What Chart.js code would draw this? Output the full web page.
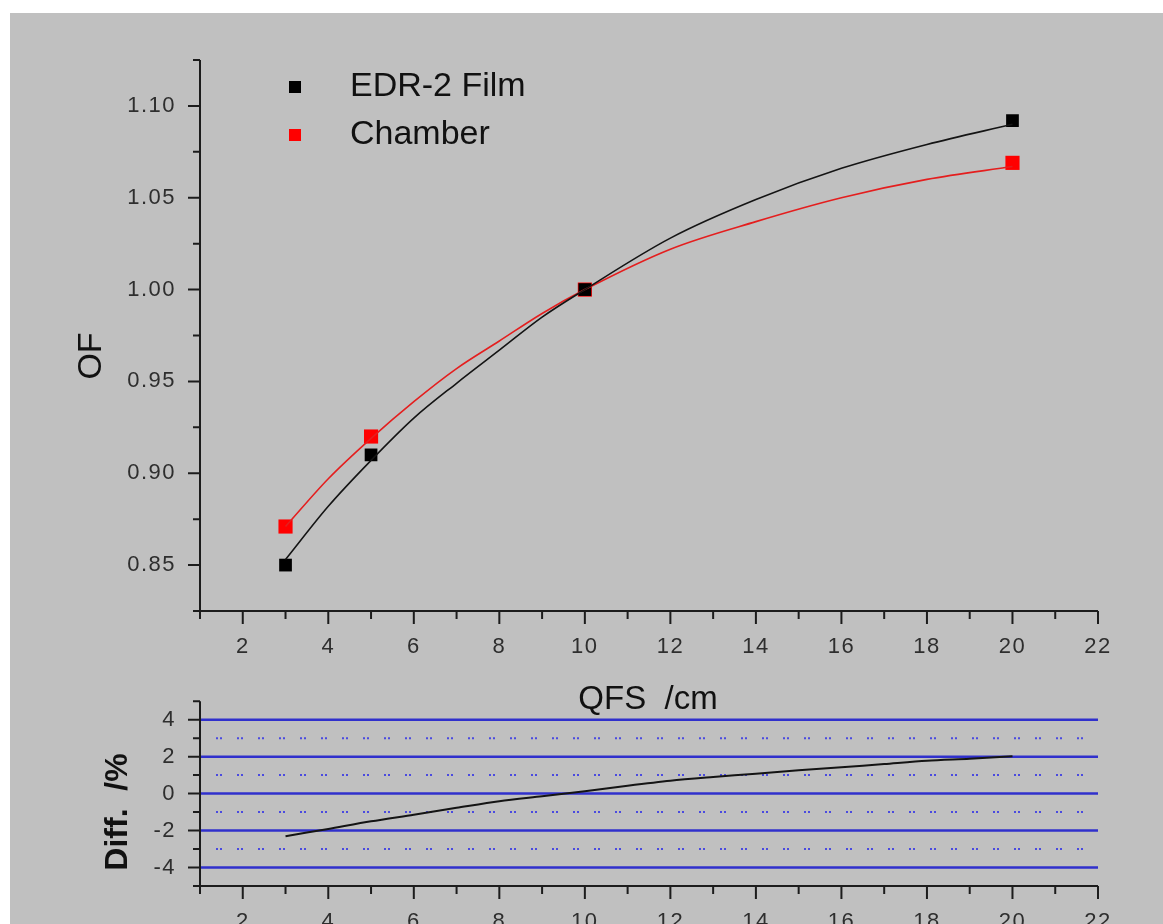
<!DOCTYPE html>
<html>
<head>
<meta charset="utf-8">
<title>OF vs QFS</title>
<script src="https://cdn.jsdelivr.net/npm/chart.js"></script>
<style>
  body { margin: 0; background: #fff; width: 1163px; height: 924px; overflow: hidden; position: relative; }
  .panel { position: absolute; left: 10px; top: 13px; right: 0; bottom: 0; background: #c0c0c0; }
  canvas { position: absolute; left: 0; }
  #ofChart { top: 0; }
  #diffChart { top: 664px; }
</style>
</head>
<body>
<div class="panel"></div>
<canvas id="ofChart" width="1163" height="730"></canvas>
<canvas id="diffChart" width="1163" height="260"></canvas>
<script>
// measured output factors
const qfs = [3, 5, 10, 20];
const filmOF = [0.850, 0.910, 1.000, 1.092];
const chamberOF = [0.871, 0.920, 1.000, 1.069];

// fitted curves
const fitQfs = [3, 4, 5, 6, 7, 8, 9, 10, 12, 14, 16, 18, 20];
const filmFit = [0.853, 0.882, 0.907, 0.930, 0.949, 0.967, 0.985, 1.000, 1.028, 1.049, 1.066, 1.079, 1.090];
const chamberFit = [0.871, 0.897, 0.919, 0.939, 0.957, 0.972, 0.987, 1.000, 1.022, 1.037, 1.050, 1.060, 1.067];

// difference panel
const diffQfs = [3, 4, 5, 6, 7, 8, 9, 10, 11, 12, 13, 14, 15, 16, 17, 18, 19, 20];
const diffPct = [-2.31, -1.91, -1.50, -1.14, -0.77, -0.41, -0.14, 0.13, 0.43, 0.70, 0.90, 1.08, 1.26, 1.42, 1.60, 1.78, 1.89, 2.02];

// ticks
const xTicks = [1, 2, 3, 4, 5, 6, 7, 8, 9, 10, 11, 12, 13, 14, 15, 16, 17, 18, 19, 20, 21, 22];
const xLabels = [2, 4, 6, 8, 10, 12, 14, 16, 18, 20, 22];
const ofTicks = [0.825, 0.85, 0.875, 0.9, 0.925, 0.95, 0.975, 1.0, 1.025, 1.05, 1.075, 1.1, 1.125];
const ofLabels = [0.85, 0.90, 0.95, 1.00, 1.05, 1.10];
const diffTicks = [-5, -4, -3, -2, -1, 0, 1, 2, 3, 4, 5];
const diffLabels = [-4, -2, 0, 2, 4];
const diffDotted = [-3, -1, 1, 3];

const FONT = "'Liberation Sans', Arial, sans-serif";
const tickFont = { family: FONT, size: 22 };
const has = (arr, v) => arr.some(a => Math.abs(a - v) < 1e-6);
const pts = (xs, ys) => xs.map((x, i) => ({ x: x, y: ys[i] }));

function xScale(height) {
  return {
    type: 'linear', min: 1, max: 22,
    afterBuildTicks: s => { s.ticks = xTicks.map(v => ({ value: v })); },
    afterFit: s => { s.height = height; },
    grid: { display: false, drawTicks: false },
    border: { display: false },
    ticks: {
      padding: 23, color: '#2e2e2e', font: tickFont, maxRotation: 0, autoSkip: false,
      callback: v => has(xLabels, v) ? String(v) : ''
    }
  };
}

function yScale(min, max, ticks, labels, fmt) {
  return {
    type: 'linear', min: min, max: max,
    afterBuildTicks: s => { s.ticks = ticks.map(v => ({ value: v })); },
    afterFit: s => { s.width = 200; },
    grid: { display: false, drawTicks: false },
    border: { display: false },
    ticks: {
      padding: 24, color: '#2e2e2e', font: tickFont, autoSkip: false,
      callback: v => has(labels, v) ? fmt(v) : ''
    }
  };
}

// spaced-out tick lettering like the original plot
const spacing = {
  id: 'spacing',
  beforeDraw(chart) { chart.ctx.letterSpacing = '1.5px'; },
  afterDatasetsDraw(chart) { chart.ctx.letterSpacing = '0px'; }
};

// axis lines with long major and short minor tick marks
function axisMarks(xMajor, yMajor) {
  return {
    id: 'axisMarks',
    afterDraw(chart) {
      const { ctx, chartArea: a } = chart;
      const xs = chart.scales.x, ys = chart.scales.y;
      ctx.save();
      ctx.strokeStyle = '#1c1c1c';
      ctx.lineWidth = 2;
      ctx.beginPath();
      ctx.moveTo(a.left, a.top);
      ctx.lineTo(a.left, a.bottom);
      ctx.lineTo(a.right, a.bottom);
      xs.ticks.forEach(t => {
        const px = xs.getPixelForValue(t.value);
        const len = has(xMajor, t.value) ? 13 : 8;
        ctx.moveTo(px, a.bottom);
        ctx.lineTo(px, a.bottom + len);
      });
      ys.ticks.forEach(t => {
        const py = ys.getPixelForValue(t.value);
        const len = has(yMajor, t.value) ? 12 : 7;
        ctx.moveTo(a.left, py);
        ctx.lineTo(a.left - len, py);
      });
      ctx.stroke();
      ctx.restore();
    }
  };
}

function titles(list) {
  return {
    id: 'titles',
    afterDraw(chart) {
      const ctx = chart.ctx;
      ctx.save();
      ctx.letterSpacing = '0px';
      ctx.fillStyle = '#111';
      ctx.textAlign = 'center';
      ctx.textBaseline = 'middle';
      list.forEach(t => {
        ctx.save();
        ctx.font = t.font;
        ctx.translate(t.x, t.y);
        if (t.rotate) ctx.rotate(-Math.PI / 2);
        ctx.fillText(t.text, 0, 0);
        ctx.restore();
      });
      ctx.restore();
    }
  };
}

const legendBox = {
  id: 'legendBox',
  afterDraw(chart) {
    const ctx = chart.ctx;
    ctx.save();
    ctx.letterSpacing = '0px';
    ctx.font = '34px ' + FONT;
    ctx.textBaseline = 'middle';
    chart.data.datasets.filter(d => d.inLegend).forEach((d, i) => {
      const y = 87 + i * 48;
      ctx.fillStyle = d.backgroundColor;
      ctx.fillRect(289, y - 6, 12, 12);
      ctx.fillStyle = '#111';
      ctx.fillText(d.label, 350, y);
    });
    ctx.restore();
  }
};

const diffGrid = {
  id: 'diffGrid',
  beforeDatasetsDraw(chart) {
    const { ctx, chartArea: a } = chart;
    const ys = chart.scales.y;
    ctx.save();
    ctx.strokeStyle = '#3030cc';
    ctx.lineWidth = 2.5;
    diffLabels.forEach(v => {
      const py = ys.getPixelForValue(v);
      ctx.beginPath();
      ctx.moveTo(a.left, py);
      ctx.lineTo(a.right, py);
      ctx.stroke();
    });
    ctx.strokeStyle = '#4a4ae0';
    ctx.lineWidth = 2;
    ctx.setLineDash([2, 2, 2, 15]);
    ctx.lineDashOffset = 5;
    diffDotted.forEach(v => {
      const py = ys.getPixelForValue(v);
      ctx.beginPath();
      ctx.moveTo(a.left, py);
      ctx.lineTo(a.right, py);
      ctx.stroke();
    });
    ctx.restore();
  }
};

new Chart(document.getElementById('ofChart'), {
  type: 'scatter',
  data: {
    datasets: [
      { label: 'EDR-2 Film fit', data: pts(fitQfs, filmFit), showLine: true, borderColor: '#141414', borderWidth: 1.6,
        pointRadius: 0, tension: 0.4, cubicInterpolationMode: 'monotone' },
      { label: 'Chamber fit', data: pts(fitQfs, chamberFit), showLine: true, borderColor: '#e41e1e', borderWidth: 1.6,
        pointRadius: 0, tension: 0.4, cubicInterpolationMode: 'monotone' },
      { label: 'EDR-2 Film', inLegend: true, data: pts(qfs, filmOF), pointStyle: 'rect', pointRadius: 9,
        backgroundColor: '#000000', borderColor: '#000000', borderWidth: 0 },
      { label: 'Chamber', inLegend: true, data: pts(qfs, chamberOF), pointStyle: 'rect', pointRadius: 10,
        backgroundColor: '#ff0000', borderColor: '#ff0000', borderWidth: 0 }
    ]
  },
  options: {
    responsive: false,
    animation: false,
    layout: { padding: { left: 0, top: 60, right: 65, bottom: 69 } },
    plugins: { legend: { display: false }, tooltip: { enabled: false } },
    scales: {
      x: xScale(50),
      y: yScale(0.825, 1.125, ofTicks, ofLabels, v => v.toFixed(2))
    }
  },
  plugins: [spacing, axisMarks(xLabels, ofLabels), legendBox, titles([
    { text: 'OF', x: 92, y: 356, rotate: true, font: '34px ' + FONT },
    { text: 'QFS  /cm', x: 648, y: 700, font: '33px ' + FONT }
  ])]
});

new Chart(document.getElementById('diffChart'), {
  type: 'scatter',
  data: {
    datasets: [
      { label: 'Diff.', data: pts(diffQfs, diffPct), showLine: true, borderColor: '#141414', borderWidth: 2,
        pointRadius: 0, tension: 0.3 }
    ]
  },
  options: {
    responsive: false,
    animation: false,
    layout: { padding: { left: 0, top: 22, right: 65, bottom: 0 } },
    plugins: { legend: { display: false }, tooltip: { enabled: false } },
    scales: {
      x: xScale(38),
      y: yScale(-5, 5, diffTicks, diffLabels, v => String(v))
    }
  },
  plugins: [spacing, diffGrid, axisMarks(xLabels, diffLabels), titles([
    { text: 'Diff.  /%', x: 118, y: 148, rotate: true, font: 'bold 32px ' + FONT }
  ])]
});
</script>
</body>
</html>
